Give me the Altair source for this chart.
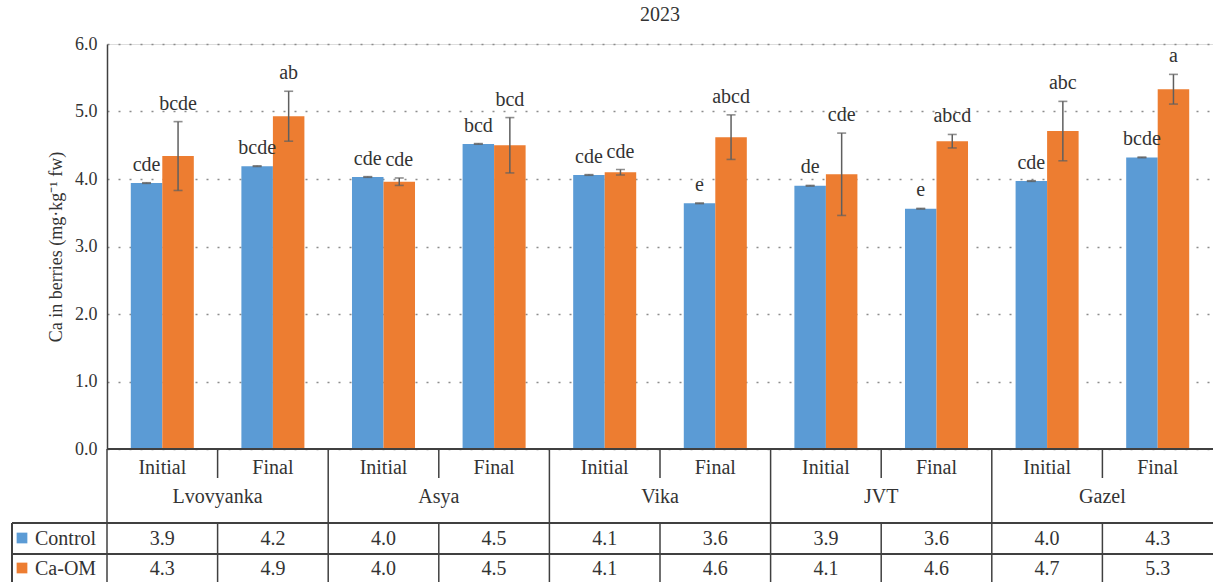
import altair as alt
import pandas as pd

# Calcium content in berries, 2023
varieties = ["Lvovyanka", "Asya", "Vika", "JVT", "Gazel"]
stages = ["Initial", "Final"]
series_names = ["Control", "Ca-OM"]
series_colors = ["#5B9BD5", "#ED7D31"]

control_vals = [3.94, 4.19, 4.03, 4.52, 4.06, 3.64, 3.90, 3.56, 3.97, 4.32]
caom_vals = [4.34, 4.93, 3.96, 4.50, 4.10, 4.62, 4.07, 4.56, 4.71, 5.33]
control_err = [0.005, 0.005, 0.005, 0.005, 0.005, 0.005, 0.005, 0.005, 0.005, 0.005]
caom_err = [0.51, 0.37, 0.055, 0.41, 0.04, 0.33, 0.61, 0.10, 0.44, 0.22]
control_letters = ["cde", "bcde", "cde", "bcd", "cde", "e", "de", "e", "cde", "bcde"]
caom_letters = ["bcde", "ab", "cde", "bcd", "cde", "abcd", "cde", "abcd", "abc", "a"]

FONT = "Liberation Serif"
INK = "#333333"
LINE = "#404040"
W, H = 1106, 405

# long table: one row per bar
cells = []
for v in varieties:
    for s in stages:
        cells.append((f"{v} {s}", v, s))
keys = [c[0] for c in cells]

rows = []
for name, vals, errs, lets in [
    ("Control", control_vals, control_err, control_letters),
    ("Ca-OM", caom_vals, caom_err, caom_letters),
]:
    for (key, v, s), val, e, let in zip(cells, vals, errs, lets):
        rows.append(dict(key=key, variety=v, stage=s, series=name, value=val,
                         lo=val - e, hi=val + e, letter=let))
bars_df = pd.DataFrame(rows)
cells_df = pd.DataFrame(cells, columns=["key", "variety", "stage"])

xscale = alt.Scale(domain=keys, paddingInner=0, paddingOuter=0)
x_band = alt.X("key:N", scale=xscale, axis=None)
x_start = alt.X("key:N", scale=xscale, axis=None, bandPosition=0)
x_off = alt.XOffset("series:N", scale=alt.Scale(domain=series_names, paddingInner=0, paddingOuter=0.755))
yscale = alt.Scale(domain=[0, 6], nice=False)
color = alt.Color("series:N", scale=alt.Scale(domain=series_names, range=series_colors), legend=None)

base = alt.Chart(bars_df)

bars = base.mark_bar().encode(
    x=x_band,
    xOffset=x_off,
    y=alt.Y(
        "value:Q",
        scale=yscale,
        axis=alt.Axis(
            values=[0, 1, 2, 3, 4, 5, 6],
            format=".1f",
            grid=True,
            gridDash=[2, 9],
            gridColor="#8c8c8c",
            gridWidth=1.4,
            domainColor=LINE,
            domainWidth=1.5,
            ticks=False,
            labelPadding=10,
            labelFontSize=18,
            labelColor=INK,
            labelFont=FONT,
            title="Ca in berries (mg·kg⁻¹ fw)",
            titleFont=FONT,
            titleFontSize=18,
            titleFontWeight="normal",
            titleColor=INK,
            titlePadding=9,
        ),
    ),
    color=color,
)

whisker = base.mark_rule(color="#5f5f5f", strokeWidth=1.5).encode(
    x=x_band, xOffset=x_off, y=alt.Y("lo:Q", scale=yscale), y2="hi:Q"
)
cap_hi = base.mark_tick(color="#5f5f5f", size=9, thickness=1.6).encode(
    x=x_band, xOffset=x_off, y=alt.Y("hi:Q", scale=yscale)
)
cap_lo = base.mark_tick(color="#5f5f5f", size=9, thickness=1.6).encode(
    x=x_band, xOffset=x_off, y=alt.Y("lo:Q", scale=yscale)
)
letters = base.mark_text(dy=-12, baseline="alphabetic", fontSize=20, font=FONT, color=INK).encode(
    x=x_band, xOffset=x_off, y=alt.Y("hi:Q", scale=yscale), text="letter:N"
)

# data table under the plot
tbl = alt.Chart(cells_df)
line_style = dict(color=LINE, strokeWidth=1.5)

x_axis_line = tbl.mark_rule(**line_style).encode(
    x=alt.value(0), x2=alt.value(W), y=alt.value(H)
)
h_lines = [
    tbl.mark_rule(**line_style).encode(x=alt.value(-95), x2=alt.value(W), y=alt.value(yy))
    for yy in (479, 510)
]
left_border = tbl.mark_rule(**line_style).encode(
    x=alt.value(-95), y=alt.value(479), y2=alt.value(545)
)
group_lines = tbl.transform_filter(alt.datum.stage == "Initial").mark_rule(**line_style).encode(
    x=x_start, y=alt.value(H), y2=alt.value(545)
)
inner_top = tbl.transform_filter(alt.datum.stage == "Final").mark_rule(**line_style).encode(
    x=x_start, y=alt.value(H), y2=alt.value(434)
)
inner_bottom = tbl.transform_filter(alt.datum.stage == "Final").mark_rule(**line_style).encode(
    x=x_start, y=alt.value(479), y2=alt.value(545)
)
txt = dict(fontSize=20, font=FONT, color=INK, baseline="alphabetic")
stage_text = tbl.mark_text(**txt).encode(x=x_band, y=alt.value(430), text="stage:N")
variety_text = tbl.transform_filter(alt.datum.stage == "Final").mark_text(**txt).encode(
    x=x_start, y=alt.value(459), text="variety:N"
)

table_layers = []
for name, row_y in zip(series_names, (501, 531)):
    sub = alt.Chart(bars_df).transform_filter(alt.datum.series == name)
    table_layers.append(
        sub.mark_text(**txt).encode(x=x_band, y=alt.value(row_y), text=alt.Text("value:Q", format=".1f"))
    )
    table_layers.append(
        sub.transform_filter(alt.datum.stage == "Initial")
        .transform_filter(alt.datum.variety == varieties[0])
        .mark_square(size=115, opacity=1)
        .encode(x=alt.value(-85), y=alt.value(row_y - 7), color=color)
    )
    table_layers.append(
        sub.transform_filter(alt.datum.stage == "Initial")
        .transform_filter(alt.datum.variety == varieties[0])
        .mark_text(align="left", **txt)
        .encode(x=alt.value(-72), y=alt.value(row_y), text="series:N")
    )

chart = alt.layer(
    bars, whisker, cap_hi, cap_lo, letters,
    x_axis_line, *h_lines, left_border, group_lines, inner_top, inner_bottom,
    stage_text, variety_text, *table_layers,
).properties(
    width=W,
    height=H,
    title=alt.TitleParams("2023", fontSize=20, font=FONT, fontWeight="normal", color=INK,
                          offset=10, anchor="middle"),
    autosize=alt.AutoSizeParams(type="none"),
    padding={"left": 107, "top": 44, "right": 0, "bottom": 133},
).configure_view(stroke=None).configure(background="white")

chart.save("out.html", embed_options={"renderer": "svg", "actions": False})
